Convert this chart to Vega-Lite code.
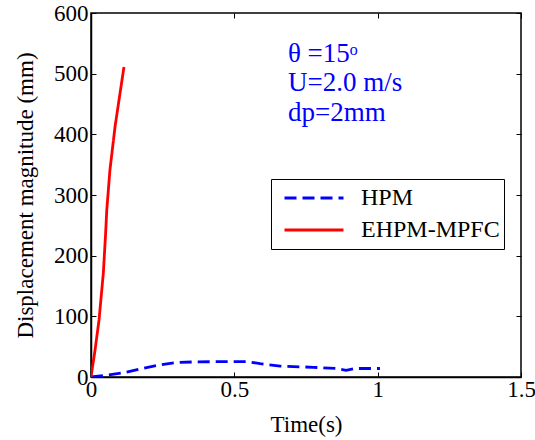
{
  "$schema": "https://vega.github.io/schema/vega-lite/v6.json",
  "width": 430,
  "height": 364,
  "autosize": {"type": "none"},
  "padding": {"left": 91, "top": 13, "right": 14, "bottom": 63},
  "background": "white",
  "config": {
    "font": "Liberation Serif",
    "view": {"stroke": "black", "strokeWidth": 1.5},
    "style": {
      "guide-label": {"font": "Liberation Serif", "fontSize": 23, "fill": "black"},
      "guide-title": {"font": "Liberation Serif", "fontSize": 23, "fontWeight": "normal", "fill": "black"}
    },
    "axis": {
      "grid": false,
      "domainColor": "black",
      "domainWidth": 1.5,
      "tickColor": "black",
      "tickSize": -5,
      "tickWidth": 1,
      "labelFlush": false,
      "labelOverlap": false,
      "labelFont": "Liberation Serif",
      "labelFontSize": 23,
      "labelColor": "black",
      "titleFont": "Liberation Serif",
      "titleFontSize": 23,
      "titleFontWeight": "normal",
      "titleColor": "black"
    }
  },
  "datasets": {
    "curves": [
      {"series": "HPM", "t": 0.0, "v": 0},
      {"series": "HPM", "t": 0.055, "v": 3},
      {"series": "HPM", "t": 0.113, "v": 7},
      {"series": "HPM", "t": 0.18, "v": 14},
      {"series": "HPM", "t": 0.24, "v": 20},
      {"series": "HPM", "t": 0.30, "v": 24},
      {"series": "HPM", "t": 0.368, "v": 25},
      {"series": "HPM", "t": 0.543, "v": 25.5},
      {"series": "HPM", "t": 0.59, "v": 22},
      {"series": "HPM", "t": 0.66, "v": 18},
      {"series": "HPM", "t": 0.775, "v": 16},
      {"series": "HPM", "t": 0.857, "v": 14},
      {"series": "HPM", "t": 0.89, "v": 11},
      {"series": "HPM", "t": 0.92, "v": 14},
      {"series": "HPM", "t": 1.008, "v": 14},
      {"series": "EHPM-MPFC", "t": 0.0, "v": 0},
      {"series": "EHPM-MPFC", "t": 0.014, "v": 44},
      {"series": "EHPM-MPFC", "t": 0.028, "v": 94},
      {"series": "EHPM-MPFC", "t": 0.043, "v": 171},
      {"series": "EHPM-MPFC", "t": 0.051, "v": 237},
      {"series": "EHPM-MPFC", "t": 0.055, "v": 275},
      {"series": "EHPM-MPFC", "t": 0.066, "v": 341},
      {"series": "EHPM-MPFC", "t": 0.084, "v": 413},
      {"series": "EHPM-MPFC", "t": 0.101, "v": 467},
      {"series": "EHPM-MPFC", "t": 0.115, "v": 511}
    ],
    "notes": [
      {"t": 0.687, "v": 533, "label": "θ =15ᵒ"},
      {"t": 0.687, "v": 484, "label": "U=2.0 m/s"},
      {"t": 0.687, "v": 435, "label": "dp=2mm"}
    ]
  },
  "layer": [
    {
      "data": {"name": "curves"},
      "mark": {"type": "line", "strokeWidth": 2.8, "clip": true},
      "encoding": {
        "x": {"field": "t", "type": "quantitative", "scale": {"domain": [0, 1.5], "nice": false},
              "axis": {"orient": "bottom", "values": [0, 0.5, 1, 1.5], "labelExpr": "toString(datum.value)", "title": "Time(s)", "labelFont": "Liberation Serif", "titleFont": "Liberation Serif", "labelPadding": 6, "titlePadding": 12}},
        "y": {"field": "v", "type": "quantitative", "scale": {"domain": [0, 600], "nice": false},
              "axis": {"orient": "left", "values": [0, 100, 200, 300, 400, 500, 600], "title": "Displacement magnitude (mm)", "labelFont": "Liberation Serif", "titleFont": "Liberation Serif", "labelPadding": 8, "titlePadding": 16}},
        "color": {"field": "series", "type": "nominal",
                  "scale": {"domain": ["HPM", "EHPM-MPFC"], "range": ["#0000FF", "#FF0000"]},
                  "legend": {"title": null, "orient": "none", "legendX": 180, "legendY": 166,
                             "strokeColor": "black", "fillColor": "white", "padding": 4,
                             "symbolType": "stroke", "symbolSize": 3481, "symbolStrokeWidth": 2.8,
                             "symbolOffset": 8, "clipHeight": 30,
                             "labelFont": "Liberation Serif", "labelFontSize": 24, "labelColor": "black",
                             "labelOffset": 16, "rowPadding": 2, "cornerRadius": 0}},
        "strokeDash": {"field": "series", "type": "nominal",
                       "scale": {"domain": ["HPM", "EHPM-MPFC"], "range": [[12, 6], [1, 0]]},
                       "legend": null},
        "order": {"field": "t", "type": "quantitative"}
      }
    },
    {
      "data": {"name": "curves"},
      "mark": {"type": "point", "opacity": 0},
      "encoding": {
        "x": {"field": "t", "type": "quantitative", "scale": {"domain": [0, 1.5], "nice": false},
              "axis": {"orient": "top", "values": [0, 0.5, 1, 1.5], "labels": false, "title": null, "domain": false}},
        "y": {"field": "v", "type": "quantitative", "scale": {"domain": [0, 600], "nice": false},
              "axis": {"orient": "right", "values": [0, 100, 200, 300, 400, 500, 600], "labels": false, "title": null, "domain": false}}
      }
    },
    {
      "data": {"name": "notes"},
      "mark": {"type": "text", "align": "left", "baseline": "middle", "font": "Liberation Serif", "fontSize": 27, "color": "#0000FF"},
      "encoding": {
        "x": {"field": "t", "type": "quantitative", "axis": null},
        "y": {"field": "v", "type": "quantitative", "axis": null},
        "text": {"field": "label"}
      }
    }
  ],
  "resolve": {"axis": {"x": "independent", "y": "independent"}}
}
